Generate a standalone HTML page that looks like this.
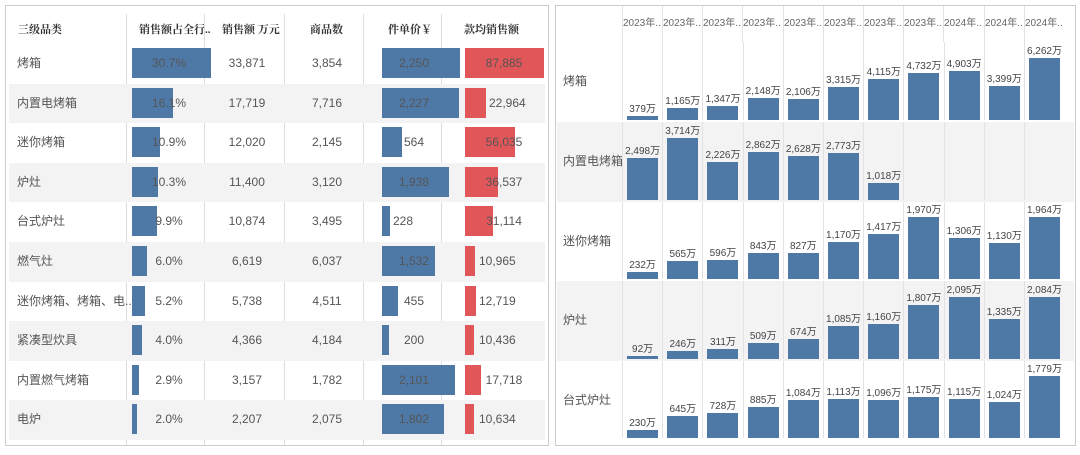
<!DOCTYPE html><html><head><meta charset="utf-8"><style>
*{margin:0;padding:0;box-sizing:border-box}
body{width:1080px;height:455px;background:#fff;font-family:"Liberation Sans","Noto Sans CJK SC",sans-serif;color:#555;position:relative;overflow:hidden}
.p{position:absolute;border:1px solid #ccc;background:#fff}
.h{position:absolute;top:15px;font-family:"Liberation Serif","Noto Serif CJK SC",serif;font-weight:bold;font-size:11px;color:#333}
.vl{position:absolute;top:8px;width:1px;background:#ddd;bottom:0}
.r{position:absolute;left:3px;right:3px;height:39.6px}
.r.g{background:#f3f3f3}
.r>*{position:absolute;font-size:12px;line-height:39.6px;top:0}
.bar{top:4px!important;height:30px;background:#4e79a7}
.red{background:#e15759}
.c{text-align:center;width:80px}
.rt{position:absolute;left:557px;width:517px;height:79.5px}
.rt.g{background:#f3f3f3}
.rt .lab{position:absolute;left:6px;top:0;line-height:79px;font-size:12px}
.cells{position:absolute;left:65px;top:0;right:0;bottom:2px;display:flex}
.cells>div{width:40.2px;display:flex;flex-direction:column;justify-content:flex-end;align-items:center;border-left:1px solid #e2e2e2}
.cells span{font-size:10px;line-height:13px;white-space:nowrap;color:#444}
.cells i{display:block;width:31px;background:#4e79a7}
.yr{position:absolute;top:14px;font-size:10px;color:#666}
.rv{position:absolute;top:6px;height:36px;width:1px;background:#e2e2e2}
</style></head><body>
<div class="p" style="left:5px;top:5px;width:544px;height:441px">
<div class="h" style="left:12px">三级品类</div>
<div class="h" style="left:133px">销售额占全行..</div>
<div class="h" style="left:216px">销售额 万元</div>
<div class="h" style="left:304px">商品数</div>
<div class="h" style="left:382px">件单价￥</div>
<div class="h" style="left:458px">款均销售额</div>
<div class="vl" style="left:120px"></div><div class="vl" style="left:198px"></div><div class="vl" style="left:278px"></div><div class="vl" style="left:357px"></div><div class="vl" style="left:435px"></div>
<div class="r" style="top:38px"><span style="left:8px">烤箱</span><div class="bar" style="left:123px;width:79px"></div><span class="c" style="left:120px">30.7%</span><span class="c" style="left:198px">33,871</span><span class="c" style="left:278px">3,854</span><div class="bar" style="left:373px;width:78px"></div><span class="c" style="left:365px">2,250</span><div class="bar red" style="left:456px;width:79px"></div><span class="c" style="left:455px">87,885</span></div>
<div class="r g" style="top:77.6px"><span style="left:8px">内置电烤箱</span><div class="bar" style="left:123px;width:41px"></div><span class="c" style="left:120px">16.1%</span><span class="c" style="left:198px">17,719</span><span class="c" style="left:278px">7,716</span><div class="bar" style="left:373px;width:77px"></div><span class="c" style="left:365px">2,227</span><div class="bar red" style="left:456px;width:21px"></div><span style="left:480px">22,964</span></div>
<div class="r" style="top:117.2px"><span style="left:8px">迷你烤箱</span><div class="bar" style="left:123px;width:28px"></div><span class="c" style="left:120px">10.9%</span><span class="c" style="left:198px">12,020</span><span class="c" style="left:278px">2,145</span><div class="bar" style="left:373px;width:20px"></div><span class="c" style="left:365px">564</span><div class="bar red" style="left:456px;width:50px"></div><span class="c" style="left:455px">56,035</span></div>
<div class="r g" style="top:156.8px"><span style="left:8px">炉灶</span><div class="bar" style="left:123px;width:26px"></div><span class="c" style="left:120px">10.3%</span><span class="c" style="left:198px">11,400</span><span class="c" style="left:278px">3,120</span><div class="bar" style="left:373px;width:67px"></div><span class="c" style="left:365px">1,938</span><div class="bar red" style="left:456px;width:33px"></div><span class="c" style="left:455px">36,537</span></div>
<div class="r" style="top:196.4px"><span style="left:8px">台式炉灶</span><div class="bar" style="left:123px;width:25px"></div><span class="c" style="left:120px">9.9%</span><span class="c" style="left:198px">10,874</span><span class="c" style="left:278px">3,495</span><div class="bar" style="left:373px;width:8px"></div><span style="left:384px">228</span><div class="bar red" style="left:456px;width:28px"></div><span class="c" style="left:455px">31,114</span></div>
<div class="r g" style="top:236px"><span style="left:8px">燃气灶</span><div class="bar" style="left:123px;width:15px"></div><span class="c" style="left:120px">6.0%</span><span class="c" style="left:198px">6,619</span><span class="c" style="left:278px">6,037</span><div class="bar" style="left:373px;width:53px"></div><span class="c" style="left:365px">1,532</span><div class="bar red" style="left:456px;width:10px"></div><span style="left:470px">10,965</span></div>
<div class="r" style="top:275.6px"><span style="left:8px">迷你烤箱、烤箱、电..</span><div class="bar" style="left:123px;width:13px"></div><span class="c" style="left:120px">5.2%</span><span class="c" style="left:198px">5,738</span><span class="c" style="left:278px">4,511</span><div class="bar" style="left:373px;width:16px"></div><span class="c" style="left:365px">455</span><div class="bar red" style="left:456px;width:11px"></div><span style="left:470px">12,719</span></div>
<div class="r g" style="top:315.2px"><span style="left:8px">紧凑型炊具</span><div class="bar" style="left:123px;width:10px"></div><span class="c" style="left:120px">4.0%</span><span class="c" style="left:198px">4,366</span><span class="c" style="left:278px">4,184</span><div class="bar" style="left:373px;width:7px"></div><span class="c" style="left:365px">200</span><div class="bar red" style="left:456px;width:9px"></div><span style="left:470px">10,436</span></div>
<div class="r" style="top:354.8px"><span style="left:8px">内置燃气烤箱</span><div class="bar" style="left:123px;width:7px"></div><span class="c" style="left:120px">2.9%</span><span class="c" style="left:198px">3,157</span><span class="c" style="left:278px">1,782</span><div class="bar" style="left:373px;width:73px"></div><span class="c" style="left:365px">2,101</span><div class="bar red" style="left:456px;width:16px"></div><span class="c" style="left:455px">17,718</span></div>
<div class="r g" style="top:394.4px"><span style="left:8px">电炉</span><div class="bar" style="left:123px;width:5px"></div><span class="c" style="left:120px">2.0%</span><span class="c" style="left:198px">2,207</span><span class="c" style="left:278px">2,075</span><div class="bar" style="left:373px;width:62px"></div><span class="c" style="left:365px">1,802</span><div class="bar red" style="left:456px;width:9px"></div><span style="left:470px">10,634</span></div>
</div>
<div class="p" style="left:555px;top:5px;width:521px;height:441px"></div>
<div class="rv" style="left:622px"></div><div class="rv" style="left:662px"></div><div class="rv" style="left:702px"></div><div class="rv" style="left:742px"></div><div class="rv" style="left:783px"></div><div class="rv" style="left:823px"></div><div class="rv" style="left:863px"></div><div class="rv" style="left:903px"></div><div class="rv" style="left:943px"></div><div class="rv" style="left:984px"></div><div class="rv" style="left:1024px"></div>
<span class="yr" style="left:623px">2023年..</span><span class="yr" style="left:663px">2023年..</span><span class="yr" style="left:703px">2023年..</span><span class="yr" style="left:743px">2023年..</span><span class="yr" style="left:784px">2023年..</span><span class="yr" style="left:824px">2023年..</span><span class="yr" style="left:864px">2023年..</span><span class="yr" style="left:904px">2023年..</span><span class="yr" style="left:944px">2024年..</span><span class="yr" style="left:985px">2024年..</span><span class="yr" style="left:1025px">2024年..</span>
<div class="rt" style="top:42px"><span class="lab">烤箱</span><div class="cells">
<div><span>379万</span><i style="height:4px"></i></div><div><span>1,165万</span><i style="height:11.5px"></i></div><div><span>1,347万</span><i style="height:13.3px"></i></div><div><span>2,148万</span><i style="height:21.3px"></i></div><div><span>2,106万</span><i style="height:20.9px"></i></div><div><span>3,315万</span><i style="height:32.8px"></i></div><div><span>4,115万</span><i style="height:40.7px"></i></div><div><span>4,732万</span><i style="height:46.8px"></i></div><div><span>4,903万</span><i style="height:48.5px"></i></div><div><span>3,399万</span><i style="height:33.7px"></i></div><div><span>6,262万</span><i style="height:62px"></i></div></div></div>
<div class="rt g" style="top:122px"><span class="lab">内置电烤箱</span><div class="cells">
<div><span>2,498万</span><i style="height:41.7px"></i></div><div><span>3,714万</span><i style="height:62px"></i></div><div><span>2,226万</span><i style="height:37.2px"></i></div><div><span>2,862万</span><i style="height:47.8px"></i></div><div><span>2,628万</span><i style="height:43.9px"></i></div><div><span>2,773万</span><i style="height:46.3px"></i></div><div><span>1,018万</span><i style="height:17px"></i></div><div></div><div></div><div></div><div></div></div></div>
<div class="rt" style="top:201.5px"><span class="lab">迷你烤箱</span><div class="cells">
<div><span>232万</span><i style="height:7.3px"></i></div><div><span>565万</span><i style="height:17.8px"></i></div><div><span>596万</span><i style="height:18.8px"></i></div><div><span>843万</span><i style="height:26.5px"></i></div><div><span>827万</span><i style="height:26px"></i></div><div><span>1,170万</span><i style="height:36.8px"></i></div><div><span>1,417万</span><i style="height:44.6px"></i></div><div><span>1,970万</span><i style="height:62px"></i></div><div><span>1,306万</span><i style="height:41.1px"></i></div><div><span>1,130万</span><i style="height:35.6px"></i></div><div><span>1,964万</span><i style="height:61.8px"></i></div></div></div>
<div class="rt g" style="top:281px"><span class="lab">炉灶</span><div class="cells">
<div><span>92万</span><i style="height:2.7px"></i></div><div><span>246万</span><i style="height:7.3px"></i></div><div><span>311万</span><i style="height:9.2px"></i></div><div><span>509万</span><i style="height:15.1px"></i></div><div><span>674万</span><i style="height:19.9px"></i></div><div><span>1,085万</span><i style="height:32.1px"></i></div><div><span>1,160万</span><i style="height:34.3px"></i></div><div><span>1,807万</span><i style="height:53.5px"></i></div><div><span>2,095万</span><i style="height:62px"></i></div><div><span>1,335万</span><i style="height:39.5px"></i></div><div><span>2,084万</span><i style="height:61.7px"></i></div></div></div>
<div class="rt" style="top:360.5px"><span class="lab">台式炉灶</span><div class="cells">
<div><span>230万</span><i style="height:8px"></i></div><div><span>645万</span><i style="height:22.5px"></i></div><div><span>728万</span><i style="height:25.4px"></i></div><div><span>885万</span><i style="height:30.8px"></i></div><div><span>1,084万</span><i style="height:37.8px"></i></div><div><span>1,113万</span><i style="height:38.8px"></i></div><div><span>1,096万</span><i style="height:38.2px"></i></div><div><span>1,175万</span><i style="height:40.9px"></i></div><div><span>1,115万</span><i style="height:38.9px"></i></div><div><span>1,024万</span><i style="height:35.7px"></i></div><div><span>1,779万</span><i style="height:62px"></i></div></div></div>
</body></html>
